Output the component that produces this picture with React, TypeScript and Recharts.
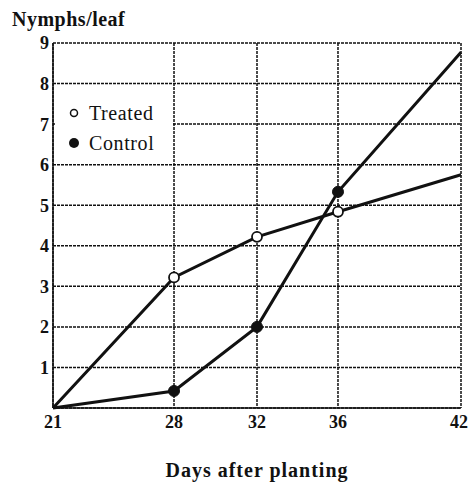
import {
  CartesianGrid,
  Legend,
  Line,
  LineChart,
  XAxis,
  YAxis,
} from "recharts";

const DAYS = [21, 28, 32, 36, 42];
const TREATED = [0, 3.22, 4.22, 4.84, 5.75];
const CONTROL = [0, 0.42, 2.0, 5.33, 8.77];
const Y_TICKS = [0, 1, 2, 3, 4, 5, 6, 7, 8, 9];

// the printed day axis is not evenly spaced; fraction of axis length at each day tick
const DAY_AXIS_FRACTION = [0, 0.2966, 0.5, 0.6985, 1];

const FONT = "'Liberation Serif', 'Times New Roman', serif";
const INK = "#111";

const data = DAYS.map((day, i) => ({ day, treated: TREATED[i], control: CONTROL[i] }));

// piecewise linear scale through the day ticks, shaped like a d3 scale
function dayScale(): any {
  let dom = [21, 42];
  let rng = [0, 1];
  const toFrac = (v: number) => {
    const n = DAYS.length;
    for (let i = 0; i < n - 1; i++) {
      if (v <= DAYS[i + 1] || i === n - 2) {
        const t = (v - DAYS[i]) / (DAYS[i + 1] - DAYS[i]);
        return DAY_AXIS_FRACTION[i] + t * (DAY_AXIS_FRACTION[i + 1] - DAY_AXIS_FRACTION[i]);
      }
    }
    return 0;
  };
  const s: any = (v: number) => rng[0] + toFrac(Number(v)) * (rng[1] - rng[0]);
  s.domain = (d?: number[]) => {
    if (d === undefined) return dom.slice();
    dom = d.map(Number);
    return s;
  };
  s.range = (r?: number[]) => {
    if (r === undefined) return rng.slice();
    rng = r.map(Number);
    return s;
  };
  s.invert = (px: number) => {
    const f = (px - rng[0]) / (rng[1] - rng[0]);
    for (let i = 0; i < DAYS.length - 1; i++) {
      if (f <= DAY_AXIS_FRACTION[i + 1] || i === DAYS.length - 2) {
        const t = (f - DAY_AXIS_FRACTION[i]) / (DAY_AXIS_FRACTION[i + 1] - DAY_AXIS_FRACTION[i]);
        return DAYS[i] + t * (DAYS[i + 1] - DAYS[i]);
      }
    }
    return dom[0];
  };
  s.copy = () => dayScale().domain(dom).range(rng);
  s.ticks = () => DAYS.slice();
  s.tickFormat = () => (v: number) => String(v);
  s.nice = () => s;
  s.clamp = () => s;
  s.unknown = () => s;
  return s;
}

const markedDot = (filled: boolean) => (props: any) => {
  const { cx, cy, index } = props;
  if (index === 0 || index === DAYS.length - 1) return <g key={`d-${index}`} />;
  return (
    <circle
      key={`d-${index}`}
      cx={cx}
      cy={cy}
      r={filled ? 5.5 : 5}
      fill={filled ? INK : "#fff"}
      stroke={INK}
      strokeWidth={filled ? 1 : 1.8}
    />
  );
};

function LegendBox() {
  return (
    <div style={{ background: "#fff", width: 118, height: 78, fontFamily: FONT, fontSize: 20, color: INK, paddingTop: 12, boxSizing: "border-box" }}>
      <div style={{ display: "flex", alignItems: "center", height: 30 }}>
        <svg width={34} height={20}>
          <circle cx={19} cy={10} r={3.5} fill="#fff" stroke={INK} strokeWidth={1.5} />
        </svg>
        <span style={{ letterSpacing: 0.6 }}>Treated</span>
      </div>
      <div style={{ display: "flex", alignItems: "center", height: 30 }}>
        <svg width={34} height={20}>
          <circle cx={19} cy={10} r={5} fill={INK} />
        </svg>
        <span style={{ letterSpacing: 0.6 }}>Control</span>
      </div>
    </div>
  );
}

export default function App() {
  const tickStyle = { fontFamily: FONT, fontSize: 18, fontWeight: 700, fill: INK };
  return (
    <div style={{ position: "absolute", left: 0, top: 0, width: 468, height: 483, background: "#fff" }}>
      <div
        style={{
          position: "absolute",
          left: 12,
          top: 8,
          fontFamily: FONT,
          fontSize: 20,
          fontWeight: 700,
          letterSpacing: 0.5,
          color: INK,
        }}
      >
        Nymphs/leaf
      </div>
      <LineChart width={468} height={483} data={data} margin={{ top: 43, right: 7, left: 0, bottom: 0 }}>
        <CartesianGrid stroke={INK} strokeWidth={1.5} strokeDasharray="3 1" />
        <XAxis
          dataKey="day"
          type="number"
          domain={[21, 42]}
          scale={dayScale()}
          ticks={DAYS}
          height={75}
          tickLine={false}
          tickSize={0}
          tickMargin={7}
          axisLine={{ stroke: INK, strokeWidth: 1.5 }}
          tick={tickStyle}
          label={{
            value: "Days after planting",
            position: "insideBottom",
            offset: 6,
            style: { fontFamily: FONT, fontSize: 20, fontWeight: 700, fill: INK, letterSpacing: 1 },
          }}
        />
        <YAxis
          type="number"
          domain={[0, 9]}
          ticks={Y_TICKS}
          width={53}
          tickLine={false}
          tickSize={0}
          tickMargin={4}
          axisLine={{ stroke: INK, strokeWidth: 1.5 }}
          tick={tickStyle}
          tickFormatter={(v: number) => (v === 0 ? "" : String(v))}
        />
        <Legend
          layout="vertical"
          align="center"
          verticalAlign="middle"
          content={() => <LegendBox />}
          wrapperStyle={{ position: "absolute", left: 55, top: 86, width: 118, height: 78 }}
        />
        <Line
          dataKey="treated"
          stroke={INK}
          strokeWidth={3}
          dot={markedDot(false)}
          activeDot={false}
          isAnimationActive={false}
        />
        <Line
          dataKey="control"
          stroke={INK}
          strokeWidth={3}
          dot={markedDot(true)}
          activeDot={false}
          isAnimationActive={false}
        />
      </LineChart>
    </div>
  );
}
